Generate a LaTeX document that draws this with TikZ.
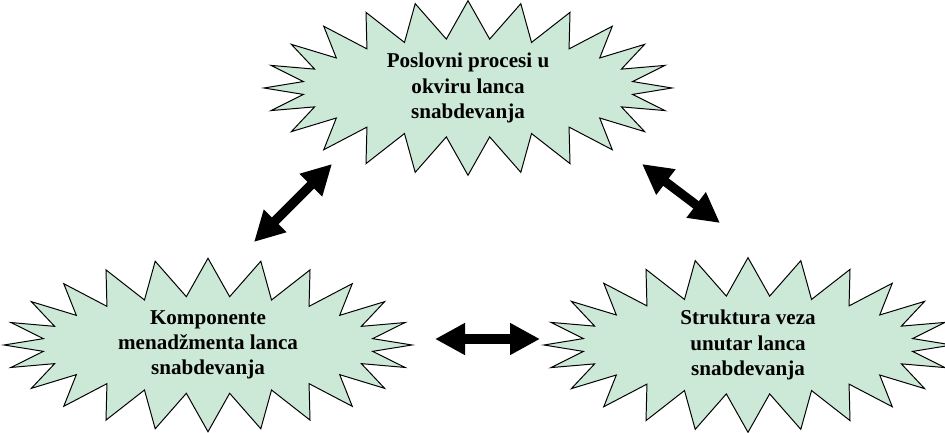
\documentclass[tikz,border=0pt]{standalone}
\usepackage{fontspec}
\setmainfont{Liberation Serif}
\usetikzlibrary{shapes.symbols,arrows.meta}
\definecolor{burstgreen}{RGB}{204,232,214}
\begin{document}
\begin{tikzpicture}[
    every node/.style={font=\fontsize{15}{18}\selectfont\bfseries},
    burst/.style={draw, starburst, starburst points=24, starburst point height=0.95cm, random starburst=0, fill=burstgreen, line width=0.7pt, inner ysep=0pt, minimum width=10.2cm, minimum height=4.1cm, align=center},
    link/.style={line width=0.23cm, {Triangle[length=0.75cm, width=0.75cm]}-{Triangle[length=0.75cm, width=0.75cm]}}
]
    \useasboundingbox (0,0) rectangle (23.625,10.8);
    \node[burst] (proc) at (11.7, 8.6) {Poslovni procesi u\\okviru lanca\\snabdevanja};
    \node[burst] (comp) at (5.2, 2.175) {Komponente\\menadžmenta lanca\\snabdevanja};
    \node[burst] (struct) at (18.7, 2.175) {Struktura veza\\unutar lanca\\snabdevanja};

    \coordinate (pc1) at (8.3, 6.7);
    \coordinate (pc2) at (6.35, 4.75);
    \coordinate (ps1) at (16.05, 6.7);
    \coordinate (ps2) at (18.0, 5.225);
    \coordinate (cs1) at (10.875, 2.325);
    \coordinate (cs2) at (13.5, 2.325);

    \draw[link] (pc1) -- (pc2);
    \draw[link] (ps1) -- (ps2);
    \draw[link] (cs1) -- (cs2);
\end{tikzpicture}
\end{document}
